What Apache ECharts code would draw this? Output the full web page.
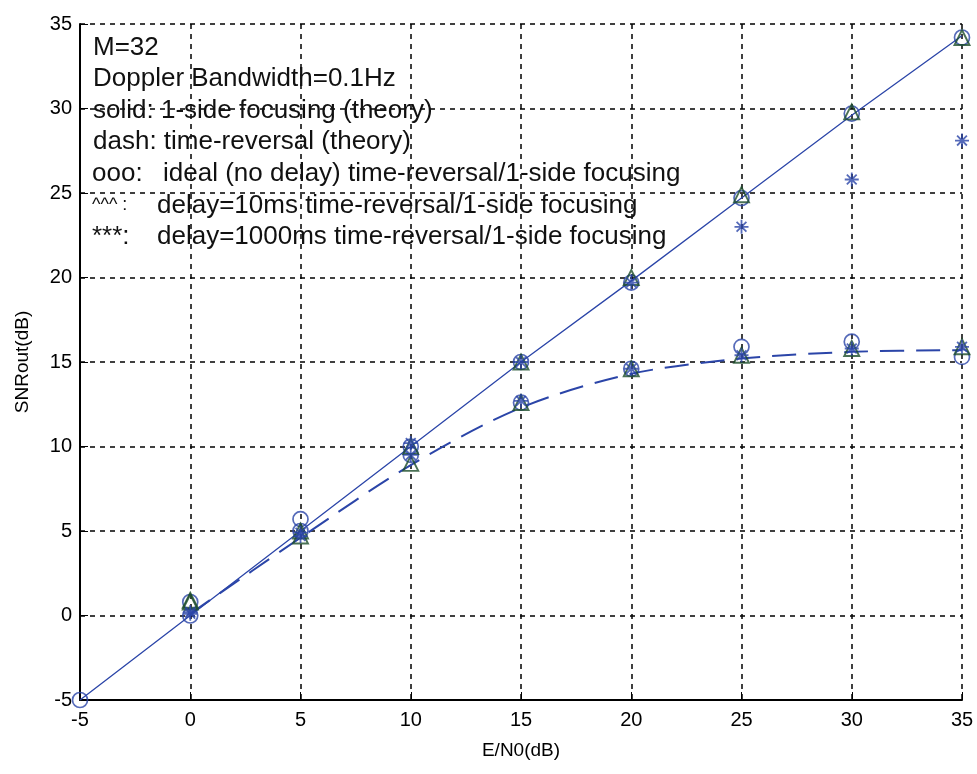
<!DOCTYPE html>
<html><head><meta charset="utf-8">
<script src="https://cdn.jsdelivr.net/npm/echarts@6/dist/echarts.min.js"></script>
<style>html,body{margin:0;padding:0;background:#fff}#c{width:977px;height:774px}</style>
</head><body><div id="c"></div>
<script>
const ebn0 = [-5, 0, 5, 10, 15, 20, 25, 30, 35];
const xTicks = [-5, 0, 5, 10, 15, 20, 25, 30, 35];
const yTicks = [-5, 0, 5, 10, 15, 20, 25, 30, 35];
const solidTheory = [-5, 0.0, 5.0, 10.0, 15.0, 19.8, 24.7, 29.6, 34.3];
const dashX = [0, 5, 10, 15, 20, 25, 30, 35];
const dashTheory = [0.1, 4.6, 8.9, 12.3, 14.3, 15.2, 15.6, 15.7];
const idealFocus = [-5, 0.0, 5.0, 10.0, 15.0, 19.7, 24.7, 29.7, 34.2];
const idealTR = [null, 0.8, 5.7, 9.5, 12.6, 14.6, 15.9, 16.2, 15.3];
const d10Focus = [null, 0.9, 5.0, 10.0, 15.0, 20.0, 24.9, 29.8, 34.2];
const d10TR = [null, 0.8, 4.7, 9.0, 12.6, 14.6, 15.4, 15.8, 15.9];
const d1000Focus = [null, 0.2, 4.9, 10.2, 15.0, 19.7, 23.0, 25.8, 28.1];
const d1000TR = [null, 0.1, 4.7, 9.5, 12.7, 14.6, 15.4, 15.8, 15.9];
const notePrefix = ["", "", "", "", "ooo:", "^^^ :", "***:"];
const noteBody = [
  "M=32",
  "Doppler Bandwidth=0.1Hz",
  "solid: 1-side focusing (theory)",
  "dash: time-reversal (theory)",
  "ideal (no delay) time-reversal/1-side focusing",
  "delay=10ms time-reversal/1-side focusing",
  "delay=1000ms time-reversal/1-side focusing"
];

const pairs = (xs, ys) => xs.map((x, i) => ys[i] == null ? null : [x, ys[i]]).filter(p => p);
const blue = '#2b45a8';
const green = '#1d4d2a';
const star = 'path://M0,-10L0,10M-10,0L10,0M-7,-7L7,7M-7,7L7,-7';

function markerSeries(ys, symbol, color, size, bw) {
  return {
    type: 'scatter', data: pairs(ebn0, ys), symbol: symbol, symbolSize: size,
    itemStyle: { color: symbol === star ? color : 'rgba(0,0,0,0)', borderColor: color, borderWidth: bw },
    z: 5
  };
}

const textStyle = { fontFamily: 'Liberation Sans', fontSize: 26, fill: '#111', verticalAlign: 'middle' };
const graphics = [];
noteBody.forEach((t, i) => {
  const y = 47.5 + i * 31.6;
  if (notePrefix[i]) {
    graphics.push({ type: 'text', x: 92, y: y, style: Object.assign({}, textStyle, { text: notePrefix[i], fontSize: i === 5 ? 18 : 26 }), z: 10 });
    graphics.push({ type: 'text', x: i === 4 ? 163 : 157, y: y, style: Object.assign({ text: t }, textStyle), z: 10 });
  } else {
    graphics.push({ type: 'text', x: 93, y: y, style: Object.assign({ text: t }, textStyle), z: 10 });
  }
});

const chart = echarts.init(document.getElementById('c'), null, { renderer: 'canvas' });
const gridLine = { show: true, lineStyle: { color: '#000', type: [5, 5], width: 1.5 } };
chart.setOption({
  animation: false,
  backgroundColor: '#fff',
  grid: { left: 80, right: 15, top: 24, bottom: 74 },
  xAxis: {
    type: 'value', min: -5, max: 35, interval: 5,
    name: 'E/N0(dB)', nameLocation: 'middle', nameGap: 41,
    nameTextStyle: { fontFamily: 'Liberation Sans', fontSize: 19, color: '#000' },
    axisLine: { show: true, onZero: false, lineStyle: { color: '#000', width: 2 } },
    axisTick: { show: true, inside: true, length: 8, lineStyle: { color: '#000' } },
    axisLabel: { fontFamily: 'Liberation Sans', fontSize: 20, color: '#000', margin: 10,
      formatter: v => xTicks.includes(v) ? String(v) : '' },
    splitLine: gridLine
  },
  yAxis: {
    type: 'value', min: -5, max: 35, interval: 5,
    name: 'SNRout(dB)', nameLocation: 'middle', nameGap: 48,
    nameTextStyle: { fontFamily: 'Liberation Sans', fontSize: 19, color: '#000' },
    axisLine: { show: true, onZero: false, lineStyle: { color: '#000', width: 2 } },
    axisTick: { show: true, inside: true, length: 8, lineStyle: { color: '#000' } },
    axisLabel: { fontFamily: 'Liberation Sans', fontSize: 20, color: '#000', margin: 8,
      formatter: v => yTicks.includes(v) ? String(v) : '' },
    splitLine: gridLine
  },
  graphic: graphics,
  series: [
    { type: 'line', data: pairs(ebn0, solidTheory), symbol: 'none',
      lineStyle: { color: blue, width: 1.3, type: 'solid' }, z: 3 },
    { type: 'line', data: pairs(dashX, dashTheory), symbol: 'none', smooth: 0.3,
      lineStyle: { color: blue, width: 2, type: [24, 12] }, z: 3 },
    markerSeries(idealFocus, 'circle', blue, 15, 1.7),
    markerSeries(idealTR, 'circle', blue, 15, 1.7),
    markerSeries(d10Focus, 'triangle', green, 15, 1.9),
    markerSeries(d10TR, 'triangle', green, 15, 1.9),
    markerSeries(d1000Focus, star, blue, 14, 1.8),
    markerSeries(d1000TR, star, blue, 14, 1.8)
  ]
});
</script></body></html>
